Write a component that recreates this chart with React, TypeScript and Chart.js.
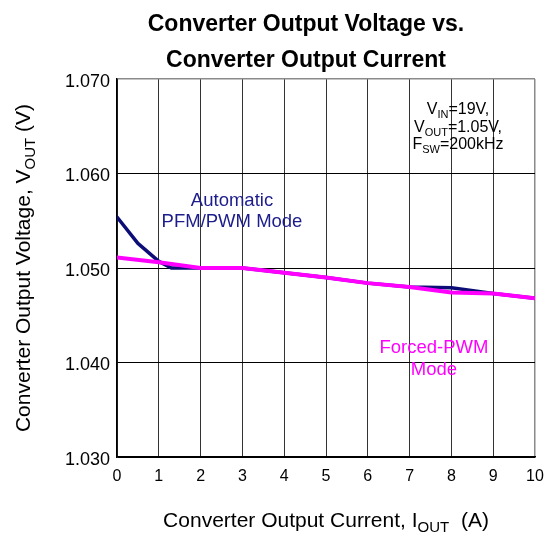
import React, { useEffect, useRef } from "react";
import { Chart, registerables } from "chart.js";

Chart.register(...registerables);

const CURRENT_A = [0, 1, 2, 3, 4, 5, 6, 7, 8, 9, 10];
const FORCED_PWM_V = [1.0511, 1.0506, 1.05, 1.05, 1.0495, 1.049, 1.0484, 1.048, 1.0474, 1.0473, 1.0468];
const AUTO_CURRENT_A = [0, 0.5, 1, 1.3, 2, 3, 4, 5, 6, 7, 8, 9, 10];
const AUTO_PFM_PWM_V = [1.0554, 1.0526, 1.0507, 1.05, 1.05, 1.05, 1.0495, 1.049, 1.0484, 1.048, 1.0479, 1.0473, 1.0468];
const Y_MIN = 1.03;
const Y_MAX = 1.07;
const Y_STEP = 0.01;
const X_MIN = 0;
const X_MAX = 10;

const FONT = "'Liberation Sans', Arial, Helvetica, sans-serif";
const NAVY_LINE = "#0d0d78";
const NAVY_TEXT = "#1c1c8c";
const MAGENTA = "#ff00ff";

const W = 551;
const H = 534;

type Seg = { t: string; sub?: boolean };

function drawRich(ctx: CanvasRenderingContext2D, segs: Seg[], x: number, y: number, size: number, subSize: number, color: string, bold = false) {
  const main = `${bold ? "bold " : ""}${size}px ${FONT}`;
  const sub = `${bold ? "bold " : ""}${subSize}px ${FONT}`;
  let total = 0;
  for (const s of segs) {
    ctx.font = s.sub ? sub : main;
    total += ctx.measureText(s.t).width;
  }
  let cx = x - total / 2;
  ctx.fillStyle = color;
  ctx.textAlign = "left";
  ctx.textBaseline = "alphabetic";
  for (const s of segs) {
    ctx.font = s.sub ? sub : main;
    ctx.fillText(s.t, cx, s.sub ? y + size * 0.22 : y);
    cx += ctx.measureText(s.t).width;
  }
}

const textPlugin = {
  id: "customText",
  afterDraw(chart: any) {
    const ctx: CanvasRenderingContext2D = chart.ctx;
    const a = chart.chartArea;
    const midX = (a.left + a.right) / 2;
    const midY = (a.top + a.bottom) / 2;
    ctx.save();
    // title
    drawRich(ctx, [{ t: "Converter Output Voltage vs." }], 306, 31, 23, 16, "#000", true);
    drawRich(ctx, [{ t: "Converter Output Current" }], 306, 67, 23, 16, "#000", true);
    // x axis title
    drawRich(ctx, [{ t: "Converter Output Current, I" }, { t: "OUT", sub: true }, { t: "  (A)" }], midX, 527, 21, 15, "#000");
    // y axis title
    ctx.save();
    ctx.translate(30, midY);
    ctx.rotate(-Math.PI / 2);
    drawRich(ctx, [{ t: "Converter Output Voltage, V" }, { t: "OUT", sub: true }, { t: " (V)" }], 0, 0, 21, 15, "#000");
    ctx.restore();
    // conditions
    drawRich(ctx, [{ t: "V" }, { t: "IN", sub: true }, { t: "=19V," }], 458, 114, 16, 11, "#000");
    drawRich(ctx, [{ t: "V" }, { t: "OUT", sub: true }, { t: "=1.05V," }], 458, 132, 16, 11, "#000");
    drawRich(ctx, [{ t: "F" }, { t: "SW", sub: true }, { t: "=200kHz" }], 458, 149, 16, 11, "#000");
    // mode labels
    drawRich(ctx, [{ t: "Automatic" }], 232, 206, 18.5, 12, NAVY_TEXT);
    drawRich(ctx, [{ t: "PFM/PWM Mode" }], 232, 227, 18.5, 12, NAVY_TEXT);
    drawRich(ctx, [{ t: "Forced-PWM" }], 434, 353, 18.5, 12, MAGENTA);
    drawRich(ctx, [{ t: "Mode" }], 434, 375, 18.5, 12, MAGENTA);
    ctx.restore();
  },
};

export default function App() {
  const ref = useRef<HTMLCanvasElement | null>(null);
  useEffect(() => {
    document.body.style.margin = "0";
    document.body.style.overflow = "hidden";
    if (!ref.current) return;
    const chart = new Chart(ref.current, {
      type: "line",
      data: {
        datasets: [
          {
            label: "Automatic PFM/PWM Mode",
            data: AUTO_CURRENT_A.map((x, i) => ({ x, y: AUTO_PFM_PWM_V[i] })),
            borderColor: NAVY_LINE,
            borderWidth: 3.5,
            pointRadius: 0,
            tension: 0,
            borderCapStyle: "round",
            borderJoinStyle: "round",
            order: 2,
          },
          {
            label: "Forced-PWM Mode",
            data: CURRENT_A.map((x, i) => ({ x, y: FORCED_PWM_V[i] })),
            borderColor: MAGENTA,
            borderWidth: 4,
            pointRadius: 0,
            tension: 0,
            borderCapStyle: "round",
            borderJoinStyle: "round",
            order: 1,
          },
        ],
      },
      options: {
        animation: false,
        responsive: false,
        maintainAspectRatio: false,
        layout: { padding: { top: 79, right: 16, left: 0, bottom: 0 } },
        plugins: { legend: { display: false }, tooltip: { enabled: false }, title: { display: false } },
        scales: {
          x: {
            type: "linear",
            min: X_MIN,
            max: X_MAX,
            afterFit: (s: any) => { s.height = 77; s.paddingLeft = 0; s.paddingRight = 0; },
            ticks: { stepSize: 1, padding: 10, color: "#000", font: { family: FONT, size: 16 } },
            grid: {
              drawTicks: false,
              color: (c: any) => (c.tick && c.tick.value === X_MAX ? "#8a8a8a" : "#333"),
              lineWidth: (c: any) => (c.tick && c.tick.value === X_MAX ? 1.5 : 1),
            },
            border: { display: true, color: "#000", width: 1.5 },
          },
          y: {
            type: "linear",
            min: Y_MIN,
            max: Y_MAX,
            afterFit: (s: any) => { s.width = 117; s.paddingTop = 0; s.paddingBottom = 0; },
            ticks: {
              stepSize: Y_STEP,
              padding: 7,
              labelOffset: 3,
              color: "#000",
              font: { family: FONT, size: 18 },
              callback: (v: any) => Number(v).toFixed(3),
            },
            grid: {
              drawTicks: false,
              color: (c: any) => (c.tick && Math.abs(c.tick.value - Y_MAX) < 1e-6 ? "#8a8a8a" : "#000"),
              lineWidth: (c: any) => (c.tick && Math.abs(c.tick.value - Y_MAX) < 1e-6 ? 1.5 : 1),
            },
            border: { display: true, color: "#000", width: 1.5 },
          },
        },
      },
      plugins: [textPlugin],
    } as any);
    return () => chart.destroy();
  }, []);
  return (
    <div style={{ width: W, height: H, position: "relative" }}>
      <canvas ref={ref} width={W} height={H} style={{ display: "block", width: W, height: H }} />
    </div>
  );
}
